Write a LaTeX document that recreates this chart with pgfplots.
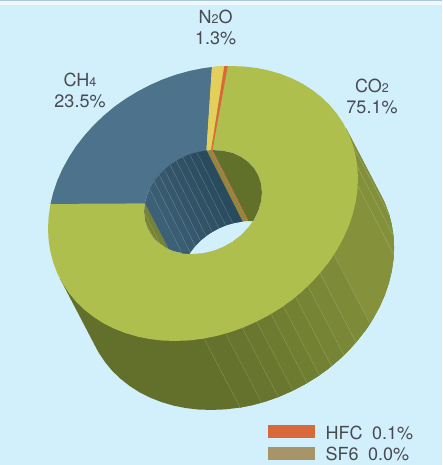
\documentclass[border=0pt]{standalone}
\usepackage{fontspec}
\setmainfont{TeX Gyre Heros}
\usepackage{pgfplots}
\pgfplotsset{compat=1.18}

\definecolor{bg}{RGB}{210,239,252}
\definecolor{co2top}{RGB}{174,191,78}
\definecolor{ch4top}{RGB}{76,115,139}
\definecolor{n2otop}{RGB}{226,208,90}
\definecolor{hfctop}{RGB}{217,104,58}
\definecolor{sf6}{RGB}{167,148,104}
\definecolor{txt}{RGB}{72,74,80}

\pgfplotsset{
  face/.style={fill={#1},draw=none,forget plot},
  band/.style={fill={#1},draw={#1},line width=.15pt,forget plot},
  hatch/.style={draw={#1},line width=.4pt,forget plot},
}
\newcommand{\lab}[1]{\fontsize{18}{18}\selectfont\color{txt}#1}
\newcommand{\sub}[1]{{\fontsize{12.5}{12.5}\selectfont #1}}

\begin{document}
\begin{tikzpicture}
\begin{axis}[
  width=442pt, height=465pt, scale only axis,
  xmin=0, xmax=442, ymin=0, ymax=465, y dir=reverse,
  axis lines=none,
]
% background and top rule
\addplot[face=bg] coordinates {(0,0)(442,0)(442,465)(0,465)} -- cycle;
\addplot[face={rgb,255:red,238;green,248;blue,253}] coordinates {(0,0)(442,0)(442,5.5)(0,5.5)} -- cycle;
\addplot[face={rgb,255:red,170;green,200;blue,220}] coordinates {(0,0)(442,0)(442,1.4)(0,1.4)} -- cycle;

% outer wall, darkest
\addplot[face={rgb,255:red,98;green,112;blue,44}] coordinates {
  (346.2,128.7)(382.2,197.7)(384.7,202.8)(388.7,213.4)(391.6,224.4)(393.4,235.8)
  (394,247.5)(393.4,259.4)(391.6,271.4)(388.7,283.4)(384.7,295.2)(379.5,306.9)
  (373.2,318.4)(366,329.6)(357.7,340.2)(348.6,350.4)(338.6,360)(327.9,369)
  (316.5,377.1)(304.5,384.4)(292,390.9)(279.1,396.6)(265.9,401.3)(252.5,405)
  (239,407.7)(225.5,409.4)(212.1,409.9)(198.9,409.6)(186,408.1)(173.5,405.6)
  (161.5,402.1)(150.1,397.6)(139.4,392.2)(129.4,385.8)(120.3,378.6)(112,370.6)
  (104.8,361.8)(98.5,352.3)(95.8,347.3)(59.8,278.3)} -- cycle;
% outer wall facets
\addplot[band={rgb,255:red,128;green,143;blue,58}] coordinates {(346.2,128.7)(353.4,146.5)(389.4,215.5)(388.7,213.4)(384.7,202.8)(382.2,197.7)} -- cycle;
\addplot[band={rgb,255:red,130;green,144;blue,58}] coordinates {(353.4,146.5)(357.4,166.8)(393.4,235.8)(391.6,224.4)(389.4,215.5)} -- cycle;
\addplot[band={rgb,255:red,132;green,145;blue,59}] coordinates {(357.4,166.8)(357.8,185.6)(393.8,254.6)(394,247.5)(393.4,235.8)} -- cycle;
\addplot[band={rgb,255:red,133;green,145;blue,59}] coordinates {(357.8,185.6)(334,254.7)(370,323.7)(373.2,318.4)(379.5,306.9)(384.7,295.2)(388.7,283.4)(391.6,271.4)(393.4,259.4)(393.8,254.6)} -- cycle;
\addplot[band={rgb,255:red,125;green,139;blue,56}] coordinates {(334,254.7)(320,273.3)(356,342.3)(357.7,340.2)(366,329.6)(370,323.7)} -- cycle;
\addplot[band={rgb,255:red,121;green,135;blue,54}] coordinates {(320,273.3)(307.9,286.1)(343.9,355.1)(348.6,350.4)(356,342.3)} -- cycle;
\addplot[band={rgb,255:red,118;green,132;blue,53}] coordinates {(307.9,286.1)(295.6,297)(331.6,366)(338.6,360)(343.9,355.1)} -- cycle;
\addplot[band={rgb,255:red,115;green,129;blue,51}] coordinates {(295.6,297)(283.3,306.2)(319.3,375.2)(327.9,369)(331.6,366)} -- cycle;
\addplot[band={rgb,255:red,112;green,126;blue,50}] coordinates {(283.3,306.2)(271,314)(307,383)(316.5,377.1)(319.3,375.2)} -- cycle;
\addplot[band={rgb,255:red,109;green,123;blue,48}] coordinates {(271,314)(256.8,321.6)(292.8,390.6)(304.5,384.4)(307,383)} -- cycle;
\addplot[band={rgb,255:red,106;green,120;blue,47}] coordinates {(256.8,321.6)(242.3,328)(278.3,397)(292.8,390.6)} -- cycle;
\addplot[band={rgb,255:red,103;green,117;blue,46}] coordinates {(242.3,328)(225.6,333.6)(261.6,402.6)(265.9,401.3)(278.3,397)} -- cycle;
\addplot[band={rgb,255:red,100;green,114;blue,45}] coordinates {(225.6,333.6)(204.1,338.5)(240.1,407.5)(252.5,405)(261.6,402.6)} -- cycle;
% outer wall seams
\addplot[hatch={rgb,255:red,160;green,172;blue,105}] coordinates {(353.4,146.5)(389.4,215.5)};
\addplot[hatch={rgb,255:red,160;green,172;blue,105}] coordinates {(357.4,166.8)(393.4,235.8)};
\addplot[hatch={rgb,255:red,160;green,172;blue,105}] coordinates {(357.8,185.6)(393.8,254.6)};
\addplot[hatch={rgb,255:red,155;green,167;blue,100}] coordinates {(334,254.7)(370,323.7)};
\addplot[hatch={rgb,255:red,155;green,167;blue,100}] coordinates {(320,273.3)(356,342.3)};
\addplot[hatch={rgb,255:red,150;green,162;blue,95}] coordinates {(307.9,286.1)(343.9,355.1)};
\addplot[hatch={rgb,255:red,150;green,162;blue,95}] coordinates {(295.6,297)(331.6,366)};
\addplot[hatch={rgb,255:red,145;green,157;blue,90}] coordinates {(283.3,306.2)(319.3,375.2)};
\addplot[hatch={rgb,255:red,145;green,157;blue,90}] coordinates {(271,314)(307,383)};
\addplot[hatch={rgb,255:red,140;green,152;blue,85}] coordinates {(256.8,321.6)(292.8,390.6)};
\addplot[hatch={rgb,255:red,140;green,152;blue,85}] coordinates {(242.3,328)(278.3,397)};
\addplot[hatch={rgb,255:red,135;green,147;blue,80}] coordinates {(225.6,333.6)(261.6,402.6)};
\addplot[hatch={rgb,255:red,135;green,147;blue,80}] coordinates {(204.1,338.5)(240.1,407.5)};

% top face: CO2 is the full ring, the other slices go over it
\addplot[face=co2top] coordinates {
  (358,178.5)(357.4,190.4)(355.6,202.4)(352.7,214.4)(348.7,226.2)(343.5,237.9)
  (337.2,249.4)(330,260.6)(321.7,271.2)(312.6,281.4)(302.6,291)(291.9,300)
  (280.5,308.1)(268.5,315.4)(256,321.9)(243.1,327.6)(229.9,332.3)(216.5,336)
  (203,338.7)(189.5,340.4)(176.1,340.9)(162.9,340.6)(150,339.1)(137.5,336.6)
  (125.5,333.1)(114.1,328.6)(103.4,323.2)(93.4,316.8)(84.3,309.6)(76,301.6)
  (68.8,292.8)(62.5,283.3)(57.3,273.2)(53.3,262.6)(50.4,251.6)(48.6,240.2)
  (48,228.5)(48.6,216.6)(50.4,204.6)(53.3,192.6)(57.3,180.8)(62.5,169.1)
  (68.8,157.6)(76,146.4)(84.3,135.8)(93.4,125.6)(103.4,116)(114.1,107)
  (125.5,98.9)(137.5,91.6)(150,85.1)(162.9,79.4)(176.1,74.7)(189.5,71)
  (203,68.3)(216.5,66.6)(229.9,66.1)(243.1,66.4)(256,67.9)(268.5,70.4)
  (280.5,73.9)(291.9,78.4)(302.6,83.8)(312.6,90.2)(321.7,97.4)(330,105.4)
  (337.2,114.2)(343.5,123.7)(348.7,133.8)(352.7,144.4)(355.6,155.4)(357.4,166.8)} -- cycle;
\addplot[face=ch4top] coordinates {
  (50.5,203.9)(53.3,192.6)(57.3,180.8)(62.5,169.1)(68.8,157.6)(76,146.4)
  (84.3,135.8)(93.4,125.6)(103.4,116)(114.1,107)(125.5,98.9)(137.5,91.6)
  (150,85.1)(162.9,79.4)(176.1,74.7)(189.5,71)(203,68.3)(211.9,67.1)
  (206.4,150.5)(144.9,203.4)} -- cycle;
\addplot[face=n2otop] coordinates {(211.9,67.1)(216.5,66.6)(224.3,66.2)(211.1,150.1)(206.4,150.5)} -- cycle;
\addplot[face=hfctop] coordinates {(224.3,66.2)(227.8,66)(212.4,150.1)(211.1,150.1)} -- cycle;

% hole, then what shows of the inner wall
\addplot[face=bg] coordinates {
  (261.9,192.5)(261,201.5)(258.3,210.6)(254,219.4)(248.1,227.5)(240.9,235)
  (232.5,241.5)(223.1,246.8)(213.2,250.7)(203,253.1)(192.8,253.9)(182.9,253.2)
  (173.5,251.1)(165.1,247.2)(157.9,242.1)(152,235.8)(147.7,228.4)(145,220.3)
  (144.1,211.5)(145,202.5)(147.7,193.4)(152,184.6)(157.9,176.5)(165.1,169)
  (173.5,162.5)(182.9,157.2)(192.8,153.3)(203,150.9)(213.2,150.1)(223.1,150.8)
  (232.5,152.9)(240.9,156.8)(248.1,161.9)(254,168.2)(258.3,175.6)(261,183.7)} -- cycle;
% CO2 inner wall, right
\addplot[face={rgb,255:red,97;green,113;blue,41}] coordinates {
  (212.4,150.1)(213.2,150.1)(223.1,150.8)(232.5,152.9)(240.9,156.8)(248.1,161.9)
  (254,168.2)(258.3,175.6)(261,183.7)(261.9,192.5)(261,201.5)(258.3,210.6)
  (254,219.4)(253,221.1)(249.2,221.1)(248.4,221.1)} -- cycle;
% N2O and HFC inner wall
\addplot[face={rgb,255:red,145;green,136;blue,60}] coordinates {(206.4,150.5)(211.1,150.1)(247.1,221.1)(242.4,221.5)} -- cycle;
\addplot[face={rgb,255:red,186;green,106;blue,58}] coordinates {(211.1,150.1)(212.4,150.1)(248.4,221.1)(247.1,221.1)} -- cycle;
% CO2 inner wall, left sliver
\addplot[face={rgb,255:red,118;green,130;blue,52}] coordinates {
  (144.9,203.4)(144.1,211.5)(145,220.3)(147.7,228.4)(152,235.8)(157.9,242.1)
  (165.1,247.2)(168.6,249)} -- cycle;
\addplot[hatch={rgb,255:red,145;green,157;blue,85}] coordinates {(144.6,213)(159.5,243)};
\addplot[hatch={rgb,255:red,145;green,157;blue,85}] coordinates {(146,223)(155,240)};
% CH4 inner wall
\addplot[face={rgb,255:red,60;green,96;blue,117}] coordinates {
  (206.4,150.5)(203,150.9)(192.8,153.3)(182.9,157.2)(173.5,162.5)(165.1,169)
  (157.9,176.5)(152,184.6)(147.7,193.4)(145,202.5)(144.9,203.4)(168.6,249)
  (173.5,251.1)(182.9,253.2)(189.1,253.9)(193.9,247.5)(201.1,240)(209.5,233.5)
  (218.9,228.2)(228.8,224.3)(239,221.9)(242.4,221.5)} -- cycle;
\addplot[band={rgb,255:red,58;green,93;blue,114}] coordinates {(149.6,189)(154.2,181.3)(190.2,252.3)(189.1,253.9)(182.1,253.2)} -- cycle;
\addplot[band={rgb,255:red,56;green,90;blue,111}] coordinates {(154.2,181.3)(159.2,174.9)(195.2,245.9)(190.2,252.3)} -- cycle;
\addplot[band={rgb,255:red,54;green,87;blue,108}] coordinates {(159.2,174.9)(164.4,169.6)(200.4,240.6)(195.2,245.9)} -- cycle;
\addplot[band={rgb,255:red,52;green,85;blue,105}] coordinates {(164.4,169.6)(170.1,164.9)(206.1,235.9)(200.4,240.6)} -- cycle;
\addplot[band={rgb,255:red,50;green,83;blue,102}] coordinates {(170.1,164.9)(176.3,160.8)(212.3,231.8)(206.1,235.9)} -- cycle;
\addplot[band={rgb,255:red,48;green,80;blue,99}] coordinates {(176.3,160.8)(182.9,157.2)(218.9,228.2)(212.3,231.8)} -- cycle;
\addplot[band={rgb,255:red,46;green,78;blue,97}] coordinates {(182.9,157.2)(189.7,154.3)(225.7,225.3)(218.9,228.2)} -- cycle;
\addplot[band={rgb,255:red,44;green,76;blue,95}] coordinates {(189.7,154.3)(196.8,152.2)(232.8,223.2)(225.7,225.3)} -- cycle;
\addplot[band={rgb,255:red,42;green,74;blue,93}] coordinates {(196.8,152.2)(206.4,150.5)(242.4,221.5)(232.8,223.2)} -- cycle;
\addplot[hatch={rgb,255:red,98;green,138;blue,160}] coordinates {(149.6,189)(182.1,253.2)};
\addplot[hatch={rgb,255:red,98;green,138;blue,160}] coordinates {(154.2,181.3)(190.2,252.3)};
\addplot[hatch={rgb,255:red,98;green,138;blue,160}] coordinates {(159.2,174.9)(195.2,245.9)};
\addplot[hatch={rgb,255:red,98;green,138;blue,160}] coordinates {(164.4,169.6)(200.4,240.6)};
\addplot[hatch={rgb,255:red,92;green,132;blue,154}] coordinates {(170.1,164.9)(206.1,235.9)};
\addplot[hatch={rgb,255:red,92;green,132;blue,154}] coordinates {(176.3,160.8)(212.3,231.8)};
\addplot[hatch={rgb,255:red,88;green,128;blue,150}] coordinates {(182.9,157.2)(218.9,228.2)};
\addplot[hatch={rgb,255:red,88;green,128;blue,150}] coordinates {(189.7,154.3)(225.7,225.3)};
\addplot[hatch={rgb,255:red,84;green,124;blue,146}] coordinates {(196.8,152.2)(232.8,223.2)};

% legend swatches
\addplot[face=hfctop] coordinates {(268,425)(315,425)(315,438)(268,438)} -- cycle;
\addplot[face=sf6] coordinates {(268,446.7)(315,446.7)(315,460)(268,460)} -- cycle;

% labels
\node[anchor=base,inner sep=0pt] at (axis cs:215.7,24) {\lab{N\sub{2}O}};
\node[anchor=base,inner sep=0pt] at (axis cs:215.7,45) {\lab{1.3\%}};
\node[anchor=base,inner sep=0pt] at (axis cs:80,86.7) {\lab{CH\sub{4}}};
\node[anchor=base,inner sep=0pt] at (axis cs:80,108) {\lab{23.5\%}};
\node[anchor=base,inner sep=0pt] at (axis cs:372,93) {\lab{CO\sub{2}}};
\node[anchor=base,inner sep=0pt] at (axis cs:372,114) {\lab{75.1\%}};
\node[anchor=base west,inner sep=0pt] at (axis cs:325.5,439.5) {\fontsize{18}{18}\selectfont\color{txt}HFC\hspace{9.5pt}0.1\%};
\node[anchor=base west,inner sep=0pt] at (axis cs:325.5,460) {\fontsize{18}{18}\selectfont\color{txt}SF6\hspace{9.5pt}0.0\%};
\end{axis}
\end{tikzpicture}
\end{document}
